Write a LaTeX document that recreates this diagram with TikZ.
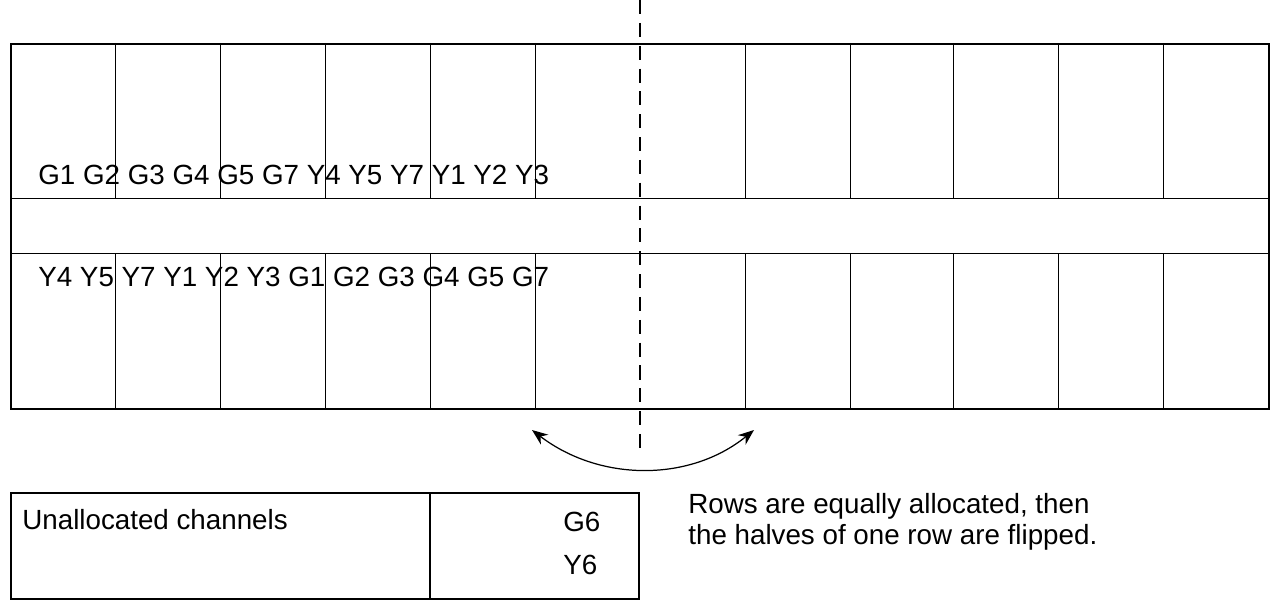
\documentclass[tikz,border=0pt]{standalone}
\usepackage{fontspec}
\setmainfont{Liberation Sans}
\usetikzlibrary{arrows.meta}
\begin{document}
\begin{tikzpicture}[x=0.02cm,y=-0.02cm]
\tikzset{frame/.style = {draw,line width=1.4pt}}
\tikzset{cell/.style = {draw,line width=0.5pt}}
\tikzset{label/.style = {anchor=west,inner sep=0pt,font=\fontsize{15.8}{18}\selectfont}}
\tikzset{flip/.style = {{Stealth[length=9pt,width=7pt]}-{Stealth[length=9pt,width=7pt]},line width=0.7pt}}
\useasboundingbox (0,0) rectangle (1273,601);
% channel rows
\node[frame,minimum width=1258*0.02cm,minimum height=365*0.02cm,anchor=north west] (grid) at (10,43) {};
\draw[cell] (10,198) -- (1268,198);
\draw[cell] (10,253) -- (1268,253);
\foreach \x in {115,220,325,430,535,745,850,953,1058,1163}{
  \draw[cell] (\x,43) -- (\x,198);
  \draw[cell] (\x,253) -- (\x,408);
}
\coordinate (top) at (640,0);
\coordinate (bottom) at (640,450);
\draw[dashed,line width=1.2pt,dash pattern=on 8pt off 5pt] (top) -- (bottom);
% allocations
\node[label] (row1) at (38,175) {G1 G2 G3 G4 G5 G7 Y4 Y5 Y7 Y1 Y2 Y3};
\node[label] (row2) at (38,277) {Y4 Y5 Y7 Y1 Y2 Y3 G1 G2 G3 G4 G5 G7};
% flip
\coordinate (left) at (532,430);
\coordinate (right) at (754,430);
\draw[flip] (left) .. controls (600,482) and (690,482) .. (right);
% unallocated
\node[frame,minimum width=628*0.02cm,minimum height=106*0.02cm,anchor=north west] (spare) at (10,492) {};
\draw[frame] (430,492) -- (430,598);
\node[label] (unalloc) at (22,520) {Unallocated channels};
\node[label] (g6) at (563,522) {G6};
\node[label] (y6) at (563,565) {Y6};
\node[label,align=left] (note) at (688,522) {Rows are equally allocated, then\\the halves of one row are flipped.};
\end{tikzpicture}
\end{document}
